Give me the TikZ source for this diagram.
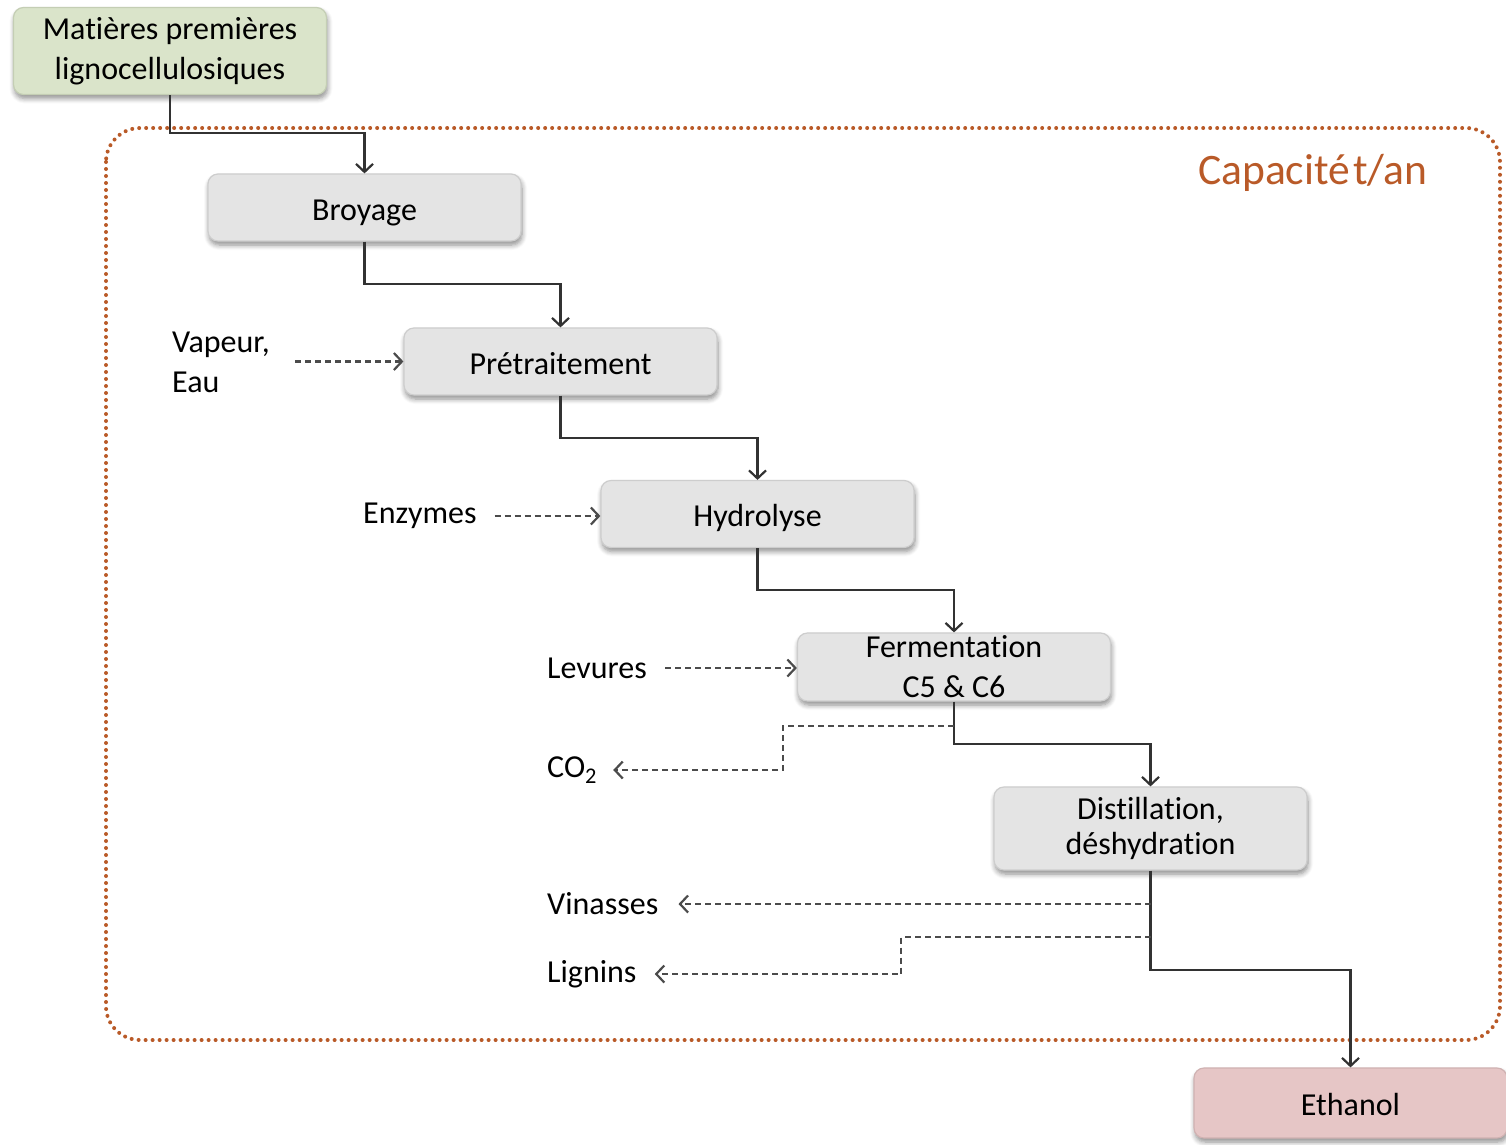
\documentclass[tikz,border=0pt]{standalone}
\usepackage{fontspec}
\setmainfont{Carlito}[Ligatures=NoCommon]
\usetikzlibrary{arrows.meta,shadows.blur,calc}

\definecolor{boxgray}{RGB}{228,228,228}
\definecolor{boxline}{RGB}{205,205,205}
\definecolor{rawgreen}{RGB}{218,228,202}
\definecolor{rawline}{RGB}{196,206,180}
\definecolor{prodpink}{RGB}{230,198,198}
\definecolor{prodline}{RGB}{208,178,178}
\definecolor{plantbrown}{RGB}{185,90,40}
\definecolor{flowgray}{RGB}{50,50,50}
\definecolor{auxgray}{RGB}{75,75,75}

\tikzset{
  every node/.style={font=\fontsize{32}{40}\selectfont},
  stepbox/.style={rectangle, rounded corners=10pt, draw=boxline, line width=1.2pt,
    fill=boxgray, minimum width=313pt, minimum height=67pt, align=center,
    inner sep=0pt,
    blur shadow={shadow xshift=1pt, shadow yshift=-4pt, shadow blur radius=5pt,
      shadow blur steps=6, shadow opacity=45}},
  oneline/.style={text height=27pt, text depth=2pt},
  rawbox/.style={stepbox, fill=rawgreen, draw=rawline},
  prodbox/.style={stepbox, fill=prodpink, draw=prodline},
  sidelabel/.style={inner sep=0pt, anchor=west, align=left},
  flow/.style={draw=flowgray, line width=2.4pt,
    -{Straight Barb[length=8pt, width=17pt, line width=2.2pt]}},
  aux/.style={draw=auxgray, line width=2.2pt, dash pattern=on 6pt off 4pt,
    -{Straight Barb[length=8pt, width=17pt, line width=2.2pt]}},
}

\begin{document}
\begin{tikzpicture}[x=1pt, y=-1pt]
  \useasboundingbox (0,0) rectangle (1506,1144);

  % plant boundary
  \draw[plantbrown, line width=4pt, dash pattern=on 0pt off 7pt, line cap=round,
        rounded corners=34pt] (106,128) rectangle (1500,1040);
  \node[text=plantbrown, font=\fontsize{43.5}{50}\selectfont, anchor=west, inner sep=0pt]
        (cap) at (1198,173) {Capacité\hspace{3pt}t/an};

  % process chain
  \node[rawbox, minimum height=87pt] (mat) at (170,51) {Matières premières\\lignocellulosiques};
  \node[stepbox, oneline] (broy) at (364.5,207.5) {Broyage};
  \node[stepbox, oneline] (pret) at (560.5,361.5) {Prétraitement};
  \node[stepbox, oneline] (hyd)  at (757.5,514)   {Hydrolyse};
  \node[stepbox, minimum height=68pt] (ferm) at (954,667) {Fermentation\\C5 \& C6};
  \node[stepbox, minimum height=83pt] (dist) at (1150.5,828.5) {Distillation,\\[-5pt]déshydration};
  \node[prodbox, oneline, minimum height=70pt] (eth) at (1350.5,1103) {Ethanol};

  \draw[flow] (mat.south)  -- (mat.south  |- 0,133) -| (broy.north);
  \draw[flow] (broy.south) -- (broy.south |- 0,284) -| (pret.north);
  \draw[flow] (pret.south) -- (pret.south |- 0,438) -| (hyd.north);
  \draw[flow] (hyd.south)  -- (hyd.south  |- 0,590) -| (ferm.north);
  \draw[flow] (ferm.south) -- (ferm.south |- 0,744) -| (dist.north);
  \draw[flow] (dist.south) -- (dist.south |- 0,970) -| (eth.north);

  % inputs
  \node[sidelabel] (vap) at (172,362) {Vapeur,\\Eau};
  \node[sidelabel] (enz) at (363,516) {Enzymes};
  \node[sidelabel] (lev) at (547,668) {Levures};
  \draw[aux, shorten <=25pt] (vap.east |- pret.west) -- (pret.west);
  \draw[aux, shorten <=18pt] (enz.east) -- (enz.east -| hyd.west);
  \draw[aux, shorten <=18pt] (lev.east) -- (lev.east -| ferm.west);

  % by-products
  \node[sidelabel] (co2) at (547,770) {CO\textsubscript{2}};
  \node[sidelabel] (vin) at (547,904) {Vinasses};
  \node[sidelabel] (lig) at (547,974) {Lignins};

  \coordinate (co2a) at (783,726);
  \coordinate (liga) at (901,937);
  \draw[aux, shorten >=16pt] (ferm.south |- co2a) -- (co2a) |- (co2.east);
  \draw[aux, shorten >=20pt] (dist.south |- vin.east) -- (vin.east);
  \draw[aux, shorten >=18pt] (dist.south |- liga) -- (liga) |- (lig.east);
\end{tikzpicture}
\end{document}
